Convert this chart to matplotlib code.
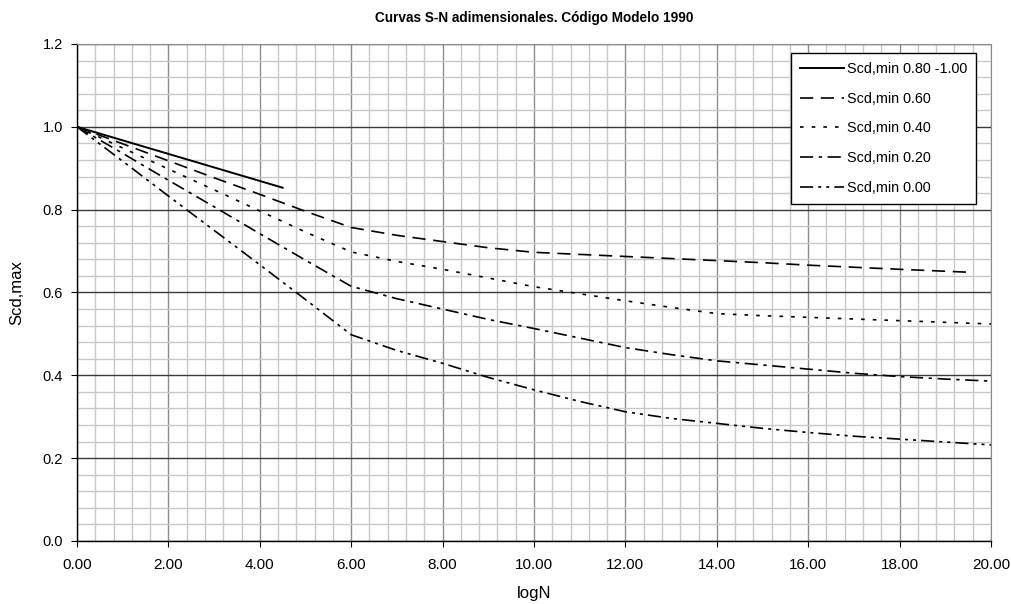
import matplotlib
matplotlib.use("Agg")
import matplotlib.pyplot as plt
from matplotlib.ticker import MultipleLocator, FormatStrFormatter

plt.rcParams['font.family'] = ['Liberation Sans', 'DejaVu Sans']
plt.rcParams['lines.scale_dashes'] = False

# Curvas S-N (Scd,max frente a logN) para cada nivel de Scd,min
logn_080 = [0.0, 4.5]
smax_080 = [1.0, 0.853]

logn_060 = [0, 1, 2, 3, 4, 5, 6, 7, 8, 9, 10, 11, 12, 13, 14, 15, 16, 17, 18, 19.5]
smax_060 = [1.0, 0.959, 0.918, 0.877, 0.837, 0.796, 0.757, 0.738, 0.723, 0.708,
            0.697, 0.692, 0.687, 0.682, 0.677, 0.672, 0.666, 0.661, 0.656, 0.649]

logn_fino = [0, 1, 2, 3, 4, 5, 6, 7, 8, 9, 10, 11, 12, 13, 14, 15, 16, 17, 18, 19, 20]
smax_040 = [1.0, 0.949, 0.898, 0.848, 0.797, 0.746, 0.698, 0.675, 0.656, 0.635,
            0.614, 0.597, 0.580, 0.564, 0.549, 0.544, 0.540, 0.536, 0.532, 0.528, 0.524]
smax_020 = [1.0, 0.936, 0.871, 0.807, 0.742, 0.678, 0.615, 0.585, 0.560, 0.535,
            0.513, 0.490, 0.467, 0.450, 0.435, 0.425, 0.415, 0.405, 0.397, 0.391, 0.386]
smax_000 = [1.0, 0.917, 0.833, 0.750, 0.667, 0.583, 0.498, 0.460, 0.429, 0.395,
            0.365, 0.337, 0.312, 0.296, 0.284, 0.272, 0.262, 0.253, 0.246, 0.239, 0.232]

etiquetas = ['Scd,min 0.80 -1.00', 'Scd,min 0.60', 'Scd,min 0.40',
             'Scd,min 0.20', 'Scd,min 0.00']

fig = plt.figure(figsize=(10.12, 6.04), dpi=100)
ax = fig.add_axes([77 / 1012, 1 - 541 / 604, 914 / 1012, 497 / 604])

lw = 1.2
ax.plot(logn_080, smax_080, color='black', lw=1.4, ls='-', label=etiquetas[0])
ax.plot(logn_060, smax_060, color='black', lw=lw, dashes=(9.5, 5.5), label=etiquetas[1])
ax.plot(logn_fino, smax_040, color='black', lw=lw, dashes=(2.6, 5.8), label=etiquetas[2])
ax.plot(logn_fino, smax_020, color='black', lw=lw, dashes=(9.5, 4.0, 2.4, 4.0), label=etiquetas[3])
ax.plot(logn_fino, smax_000, color='black', lw=lw,
        dashes=(9.5, 3.6, 2.2, 3.6, 2.2, 3.6), label=etiquetas[4])

ax.set_xlim(0, 20)
ax.set_ylim(0, 1.2)
ax.xaxis.set_major_locator(MultipleLocator(2))
ax.xaxis.set_minor_locator(MultipleLocator(0.4))
ax.yaxis.set_major_locator(MultipleLocator(0.2))
ax.yaxis.set_minor_locator(MultipleLocator(0.04))
ax.xaxis.set_major_formatter(FormatStrFormatter('%.2f'))
ax.yaxis.set_major_formatter(FormatStrFormatter('%.1f'))

# rejilla: secundaria clara, principal vertical gris, principal horizontal oscura
ax.grid(which='minor', color='#c8c8c8', lw=1.0)
ax.xaxis.grid(which='major', color='#8c8c8c', lw=1.0)
ax.yaxis.grid(which='major', color='#3a3a3a', lw=1.0)
ax.set_axisbelow(True)

ax.tick_params(which='minor', length=0)
ax.tick_params(which='major', direction='out', length=4, width=0.8, color='black')
ax.tick_params(axis='y', which='major', labelsize=10.5, pad=6)
ax.tick_params(axis='x', which='major', labelsize=11, pad=8)

for lado in ('top', 'right'):
    ax.spines[lado].set_color('#8c8c8c')
for lado in ('left', 'bottom'):
    ax.spines[lado].set_color('black')
    ax.spines[lado].set_linewidth(1.0)

ax.set_title('Curvas S-N adimensionales. Código Modelo 1990',
             fontsize=9.8, fontweight='bold', pad=16)
ax.set_xlabel('logN', fontsize=12, labelpad=10)
ax.set_ylabel('Scd,max', fontsize=12, labelpad=13)

leg = ax.legend(loc='upper left', bbox_to_anchor=(791 / 1012, 1 - 53 / 604),
                bbox_transform=fig.transFigure, borderaxespad=0,
                fontsize=10.4, handlelength=3.1, handletextpad=0.15,
                labelspacing=1.1, borderpad=0.6, fancybox=False,
                framealpha=1, edgecolor='black')
leg.get_frame().set_linewidth(1.0)

fig.savefig('out.png', dpi=100)
